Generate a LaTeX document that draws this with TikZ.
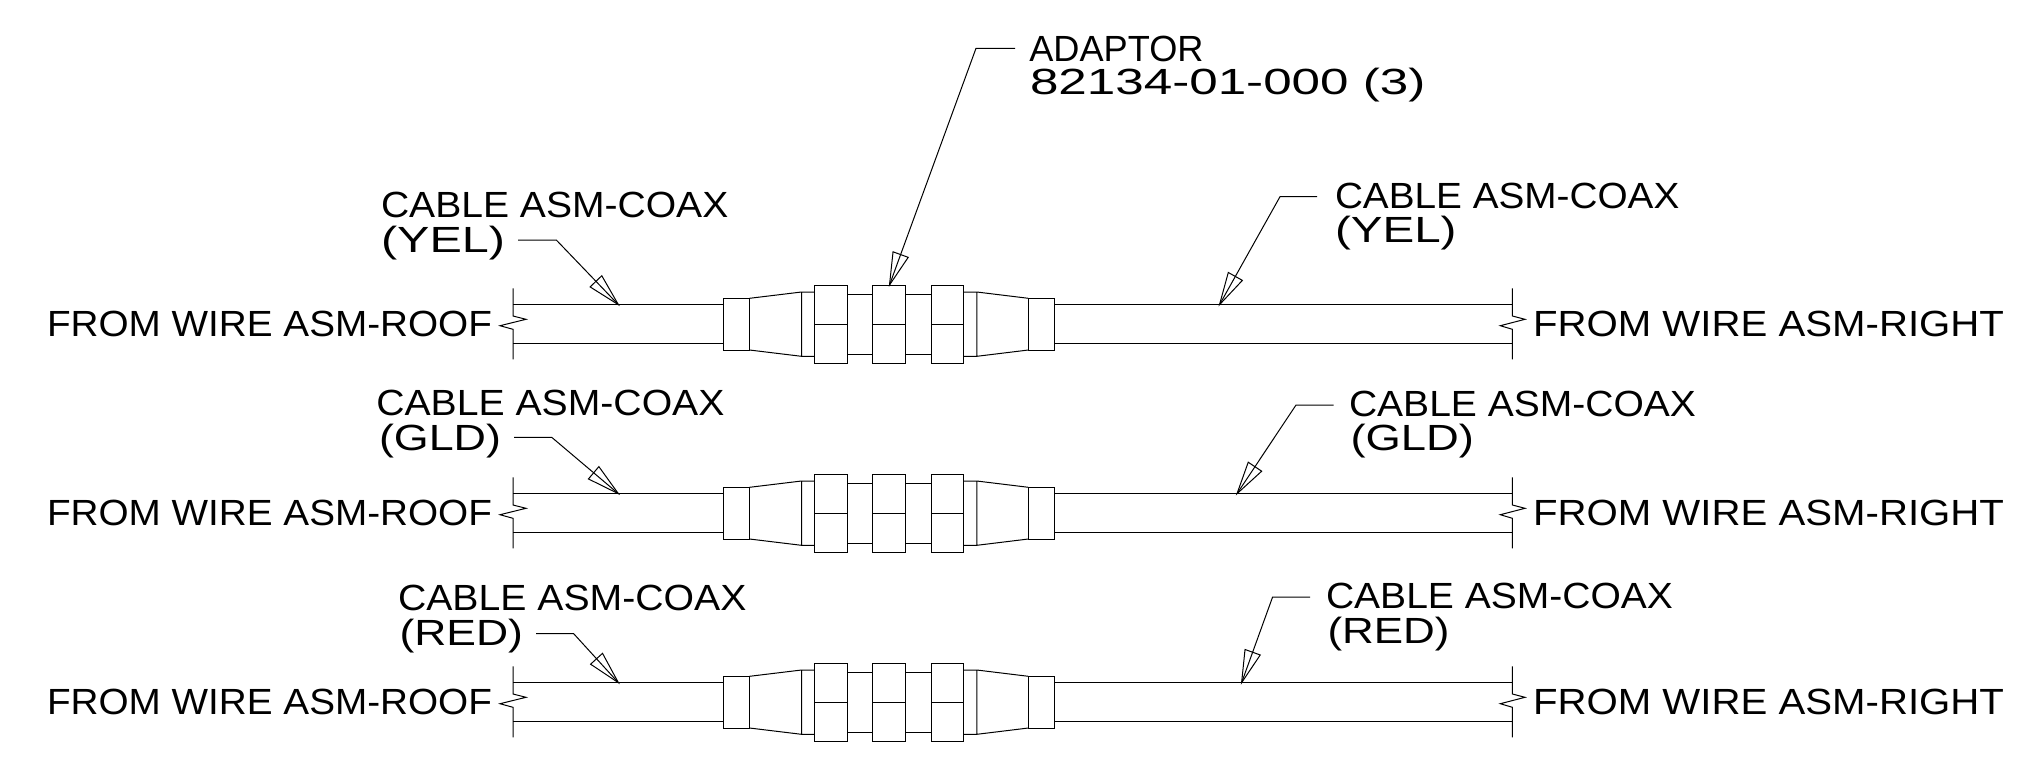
\documentclass[tikz,border=0pt]{standalone}
\usepackage{graphicx}
\usepackage{fontspec}
\setmainfont{Liberation Sans}
\usetikzlibrary{calc}
\tikzset{
  cad/.style={line width=0.5pt,black,line join=miter},
  lbl/.style={inner sep=0pt,outer sep=0pt,anchor=base west,font=\fontsize{18.2}{22}\selectfont},
}
\newcommand\lab[5]{\node[lbl] (#1) at ($(#2)+(-1,1)$) {\resizebox{0.5\dimexpr#3pt-#4pt+2pt\relax}{\height}{#5}};}
\newcommand\leader[4]{%
  \coordinate (#1s) at (#2);
  \coordinate (#1e) at (#3);
  \coordinate (#1t) at (#4);
  \draw[cad] (#1s) -- (#1e) -- (#1t);
  \draw[cad] ($(#1t)!16.7pt!14:(#1e)$) -- (#1t) -- ($(#1t)!16.7pt!-14:(#1e)$) -- cycle;
}
\newcommand\assembly[1]{%
\begin{scope}[shift={(0,#1)}]
  % left break
  \draw[cad] (513,288.3) -- (513,316) -- (526,319.3) -- (500,325.7) -- (513,329.3) -- (513,359.3);
  % right break
  \draw[cad] (1512.4,288.3) -- (1512.4,316) -- (1525,319.3) -- (1500.3,325.7) -- (1512.4,329.3) -- (1512.4,359.3);
  % cable
  \draw[cad] (513,304.7) -- (723.4,304.7) (513,343.7) -- (723.4,343.7);
  \draw[cad] (1054.4,304.7) -- (1512.4,304.7) (1054.4,343.7) -- (1512.4,343.7);
  % end boxes
  \draw[cad] (723.4,298.3) rectangle (749.5,350);
  \draw[cad] (1028.4,298.3) rectangle (1054.4,350);
  % cones
  \draw[cad] (749.5,298.3) -- (801.5,292) -- (814.5,292) (749.5,350) -- (801.5,356.3) -- (814.5,356.3) (801.5,292) -- (801.5,356.3);
  \draw[cad] (1028.4,298.3) -- (976.8,292) -- (963.7,292) (1028.4,350) -- (976.8,356.3) -- (963.7,356.3) (976.8,292) -- (976.8,356.3);
  % nuts
  \draw[cad] (814.5,285.3) rectangle (847.5,363.3) (814.5,324) -- (847.5,324);
  \draw[cad] (872.3,285.3) rectangle (905.6,363.3) (872.3,324) -- (905.6,324);
  \draw[cad] (931.2,285.3) rectangle (963.7,363.3) (931.2,324) -- (963.7,324);
  % necks
  \draw[cad] (847.5,294.3) -- (872.3,294.3) (847.5,354) -- (872.3,354);
  \draw[cad] (905.6,294.3) -- (931.2,294.3) (905.6,354) -- (931.2,354);
\end{scope}}
\begin{document}
\begin{tikzpicture}[x=0.5pt,y=-0.5pt]
\useasboundingbox (0,0) rectangle (2026,762);
\assembly{0}
\assembly{189}
\assembly{378}
% adaptor
\lab{adaptor}{1030.3,60}{1202.5}{1030.3}{ADAPTOR}
\lab{partno}{1031,93.3}{1424.5}{1031}{82134-01-000 (3)}
\leader{la}{1015,48.3}{976,48.3}{889.5,285}
% row 1
\lab{a1}{382,216.7}{727.4}{382}{CABLE ASM-COAX}
\lab{b1}{382,251}{504}{382}{(YEL)}
\lab{c1}{1336,207.3}{1678.4}{1336}{CABLE ASM-COAX}
\lab{d1}{1336,241}{1455.5}{1336}{(YEL)}
\lab{e1}{48,335.7}{491}{48}{FROM WIRE ASM-ROOF}
\lab{f1}{1534,335.7}{2003}{1534}{FROM WIRE ASM-RIGHT}
\leader{l1}{518,240}{556.3,240}{618.4,304.7}
\leader{r1}{1317,196.7}{1280,196.7}{1219.5,304.7}
% row 2
\lab{a2}{377.3,414.4}{723.5}{377.3}{CABLE ASM-COAX}
\lab{b2}{380,449}{500}{380}{(GLD)}
\lab{c2}{1350,415.3}{1695}{1350}{CABLE ASM-COAX}
\lab{d2}{1351.5,449}{1473}{1351.5}{(GLD)}
\lab{e2}{48,524.7}{491}{48}{FROM WIRE ASM-ROOF}
\lab{f2}{1534,524.7}{2003}{1534}{FROM WIRE ASM-RIGHT}
\leader{l2}{514,437.3}{551.7,437.3}{618.4,493.7}
\leader{r2}{1333.5,405}{1296,405}{1237,493.7}
% row 3
\lab{a3}{399,609.5}{745.5}{399}{CABLE ASM-COAX}
\lab{b3}{400.5,644}{522}{400.5}{(RED)}
\lab{c3}{1327,607.8}{1672}{1327}{CABLE ASM-COAX}
\lab{d3}{1328.5,642}{1448.5}{1328.5}{(RED)}
\lab{e3}{48,713.7}{491}{48}{FROM WIRE ASM-ROOF}
\lab{f3}{1534,713.7}{2003}{1534}{FROM WIRE ASM-RIGHT}
\leader{l3}{536,633.7}{573.7,633.7}{618.4,682.7}
\leader{r3}{1310,597}{1272.6,597}{1241.6,682.7}
\end{tikzpicture}
\end{document}
